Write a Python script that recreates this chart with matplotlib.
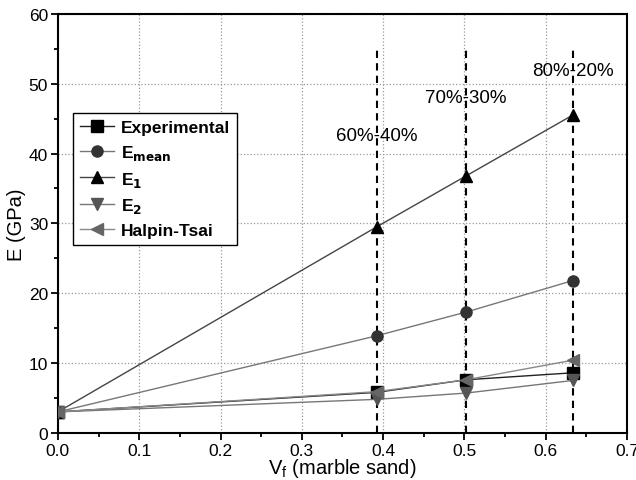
import matplotlib
matplotlib.use("Agg")
import matplotlib.pyplot as plt
from matplotlib.ticker import MultipleLocator

plt.rcParams["font.family"] = ["Liberation Sans", "DejaVu Sans"]

vf = [0.0, 0.392, 0.502, 0.633]
experimental = [3.0, 5.8, 7.6, 8.6]
e_mean = [3.0, 13.9, 17.3, 21.8]
e_1 = [3.0, 29.5, 36.8, 45.5]
e_2 = [3.0, 4.8, 5.7, 7.5]
halpin_tsai = [3.0, 5.9, 7.6, 10.4]

ratio_x = [0.392, 0.502, 0.633]
ratio_labels = ["60%-40%", "70%-30%", "80%-20%"]
label_y = [42.6, 48.1, 51.9]
ratio_top = 55

fig = plt.figure(figsize=(6.36, 4.81), dpi=100)
ax = fig.add_axes([0.091, 0.098, 0.895, 0.871])

for x in ratio_x:
    ax.plot([x, x], [0, ratio_top], color="black", ls=(0, (3.5, 2.5)), lw=1.5, zorder=2)

series = [
    (experimental, "s", "black", "#222222", "Experimental"),
    (e_mean, "o", "#333333", "#777777", "E$_{\\mathbf{mean}}$"),
    (e_1, "^", "black", "#444444", "E$_\\mathbf{1}$"),
    (e_2, "v", "#555555", "#777777", "E$_\\mathbf{2}$"),
    (halpin_tsai, "<", "#666666", "#888888", "Halpin-Tsai"),
]
for y, m, mc, lc, lab in series:
    ax.plot(vf, y, color=lc, lw=1.0, marker=m, ms=8, mfc=mc, mec=mc,
            label=lab, zorder=3)

for x, txt, ty in zip(ratio_x, ratio_labels, label_y):
    ax.text(x, ty, txt, ha="center", va="center", fontsize=13.5)

ax.set_xlim(0, 0.7)
ax.set_ylim(0, 60)
ax.xaxis.set_major_locator(MultipleLocator(0.1))
ax.xaxis.set_minor_locator(MultipleLocator(0.05))
ax.yaxis.set_major_locator(MultipleLocator(10))
ax.yaxis.set_minor_locator(MultipleLocator(5))
ax.xaxis.set_major_formatter(plt.FormatStrFormatter("%.1f"))
ax.tick_params(which="both", direction="out", labelsize=12.5, width=1.3)
ax.tick_params(which="major", length=5, pad=2)
ax.tick_params(which="minor", length=3)
ax.grid(True, which="major", color="#999999", ls=":", lw=0.9)
for s in ax.spines.values():
    s.set_linewidth(1.5)

ax.set_xlabel("V$_\\mathregular{f}$ (marble sand)", fontsize=14.5, labelpad=-1)
ax.set_ylabel("E (GPa)", fontsize=14.5, labelpad=2)

leg = ax.legend(loc="upper left", bbox_to_anchor=(0.026, 0.764), borderaxespad=0,
                prop={"weight": "bold", "size": 12.5},
                fancybox=False, framealpha=1, edgecolor="black", handlelength=2.0,
                handletextpad=0.4, borderpad=0.4, labelspacing=0.45)
leg.get_frame().set_linewidth(1.0)

fig.savefig("out.png", dpi=100)
